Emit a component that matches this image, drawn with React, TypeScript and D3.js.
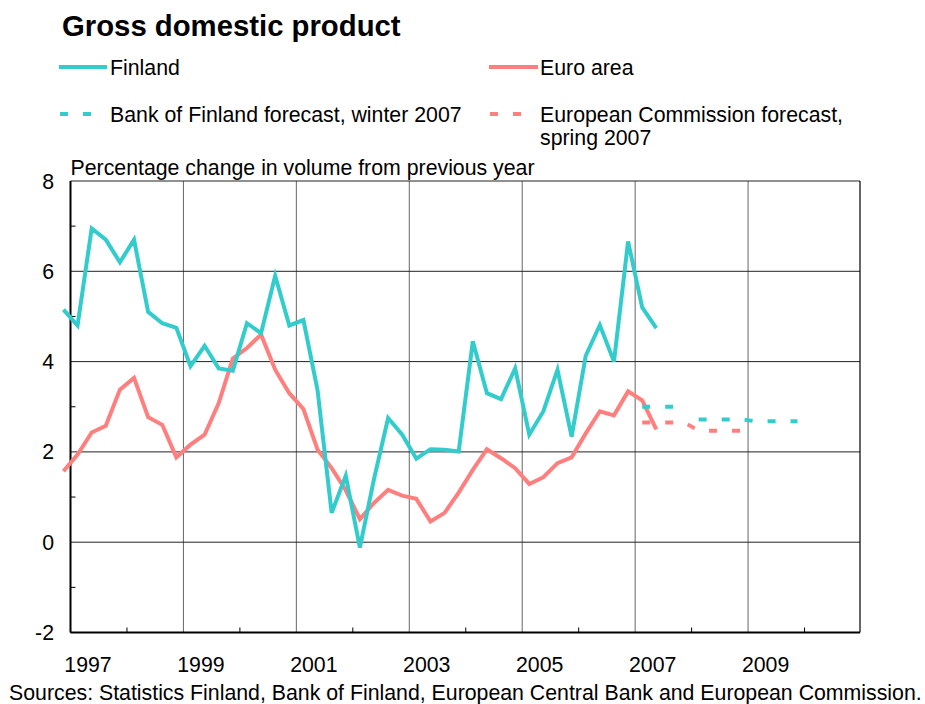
import React from "react";
import * as d3 from "d3";

// Quarterly data, 1996Q4 .. 2007Q2
const startQuarter = { year: 1996, q: 4 };
const finland = [
  5.15,
  4.8, 6.95, 6.7, 6.2,
  6.7, 5.1, 4.85, 4.75,
  3.9, 4.35, 3.85, 3.8,
  4.85, 4.63, 5.9, 4.8,
  4.92, 3.37, 0.65, 1.47,
  -0.12, 1.4, 2.75, 2.38,
  1.85, 2.06, 2.05, 2.01,
  4.45, 3.3, 3.17, 3.85,
  2.38, 2.9, 3.82, 2.34,
  4.13, 4.81, 4.0, 6.66,
  5.2, 4.74,
];
const euroArea = [
  1.57,
  1.94, 2.43, 2.58, 3.38,
  3.64, 2.77, 2.6, 1.88,
  2.16, 2.38, 3.08, 4.07,
  4.3, 4.6, 3.82, 3.3,
  2.95, 2.05, 1.64, 1.15,
  0.51, 0.87, 1.16, 1.03,
  0.96, 0.46, 0.65, 1.1,
  1.6, 2.06, 1.86, 1.64,
  1.29, 1.44, 1.75, 1.88,
  2.41, 2.9, 2.81, 3.34,
  3.14, 2.5,
];
// Annual forecasts
const bofForecastYears = [2007, 2008, 2009];
const bofForecast = [3.0, 2.72, 2.68];
const ecForecastYears = [2007, 2008];
const ecForecast = [2.65, 2.47];

const yTicks = [-2, 0, 2, 4, 6, 8];
const yMinorTicks = [-1, 1, 3, 5, 7];
const gridYears = [1999, 2001, 2003, 2005, 2007, 2009];
const labelYears = [1997, 1999, 2001, 2003, 2005, 2007, 2009];
const minorYears = [1998, 2000, 2002, 2004, 2006, 2008, 2010];

const TEAL = "#33CCCC";
const SALMON = "#FF7F7F";
const FONT = "'Liberation Sans', Arial, Helvetica, sans-serif";
const FS = 21.3;

export default function App() {
  const W = 925, H = 704;
  const left = 70.5, right = 861, top = 181, bottom = 632.5;
  const x = d3.scaleLinear().domain([1997, 2011]).range([left, right]);
  const y = d3.scaleLinear().domain([-2, 8]).range([bottom, top]);

  const qt = (i: number) => {
    const idx = (startQuarter.q - 1) + i;
    const yr = startQuarter.year + Math.floor(idx / 4);
    const q = (idx % 4) + 1;
    return yr + (q - 0.5) / 4;
  };

  const line = d3.line<[number, number]>().x(d => x(d[0])).y(d => y(d[1]));
  const finPts: [number, number][] = finland.map((v, i) => [qt(i), v]);
  const euroPts: [number, number][] = euroArea.map((v, i) => [qt(i), v]);

  const expand = (years: number[], vals: number[]): [number, number][] =>
    years.flatMap((yr, i) => [1, 2, 3, 4].map(q => [yr + (q - 0.5) / 4, vals[i]] as [number, number]));

  const bofA = expand(bofForecastYears.slice(0, 1), bofForecast.slice(0, 1));
  const bofB = expand(bofForecastYears.slice(1), bofForecast.slice(1));
  const ecPts = expand(ecForecastYears, ecForecast);

  const plotRight = 860;

  return (
    <svg width={W} height={H} style={{ position: "absolute", left: 0, top: 0, background: "#fff" }}
      fontFamily={FONT}>
      <rect x={0} y={0} width={W} height={H} fill="#fff" />
      {/* Title */}
      <text x={62} y={36} fontSize={29.3} fontWeight="bold" fill="#000">Gross domestic product</text>
      {/* Legend */}
      <line x1={59} x2={107} y1={67} y2={67} stroke={TEAL} strokeWidth={4} />
      <text x={110} y={75} fontSize={FS}>Finland</text>
      <line x1={489} x2={538} y1={67} y2={67} stroke={SALMON} strokeWidth={4} />
      <text x={540} y={75} fontSize={FS}>Euro area</text>
      <line x1={60} x2={92} y1={114} y2={114} stroke={TEAL} strokeWidth={4} strokeDasharray="8,15" />
      <text x={110} y={121.5} fontSize={FS}>Bank of Finland forecast, winter 2007</text>
      <line x1={490} x2={522} y1={114} y2={114} stroke={SALMON} strokeWidth={4} strokeDasharray="8,15" />
      <text x={540} y={121.5} fontSize={FS}>European Commission forecast,</text>
      <text x={540} y={145} fontSize={FS}>spring 2007</text>
      {/* Axis title */}
      <text x={70.5} y={175} fontSize={FS}>Percentage change in volume from previous year</text>

      {/* Grid */}
      {gridYears.map(yr => (
        <line key={"gx" + yr} x1={x(yr)} x2={x(yr)} y1={top} y2={bottom} stroke="#666" strokeWidth={1} />
      ))}
      {yTicks.map(v => (
        <line key={"gy" + v} x1={left} x2={plotRight} y1={y(v)} y2={y(v)} stroke="#222" strokeWidth={1} />
      ))}
      <line x1={plotRight} x2={plotRight} y1={top} y2={bottom} stroke="#000" strokeWidth={1.2} />
      {/* minor ticks */}
      {yMinorTicks.map(v => (
        <line key={"my" + v} x1={left} x2={left + 5} y1={y(v)} y2={y(v)} stroke="#000" strokeWidth={1} />
      ))}
      {minorYears.map(yr => (
        <line key={"mx" + yr} x1={x(yr)} x2={x(yr)} y1={bottom} y2={bottom - 5} stroke="#000" strokeWidth={1} />
      ))}
      {/* axes */}
      <line x1={left} x2={left} y1={top} y2={bottom} stroke="#000" strokeWidth={2} />
      <line x1={left} x2={plotRight} y1={bottom} y2={bottom} stroke="#000" strokeWidth={2} />

      {/* tick labels */}
      {yTicks.map(v => (
        <text key={"ly" + v} x={54} y={y(v) + 7.5} fontSize={FS} textAnchor="end">{v}</text>
      ))}
      {labelYears.map(yr => (
        <text key={"lx" + yr} x={x(yr) + 17.5} y={672} fontSize={FS} textAnchor="middle">{yr}</text>
      ))}

      {/* series */}
      <path d={line(euroPts) || ""} fill="none" stroke={SALMON} strokeWidth={4} strokeLinejoin="miter" />
      <path d={line(finPts) || ""} fill="none" stroke={TEAL} strokeWidth={4} strokeLinejoin="miter" />
      <path d={line(bofA) || ""} fill="none" stroke={TEAL} strokeWidth={4} strokeDasharray="8,15" />
      <path d={line(bofB) || ""} fill="none" stroke={TEAL} strokeWidth={4} strokeDasharray="8,15" />
      <path d={line(ecPts) || ""} fill="none" stroke={SALMON} strokeWidth={4} strokeDasharray="8,15" />

      {/* sources */}
      <text x={9} y={700} fontSize={FS}>Sources: Statistics Finland, Bank of Finland, European Central Bank and European Commission.</text>
    </svg>
  );
}
